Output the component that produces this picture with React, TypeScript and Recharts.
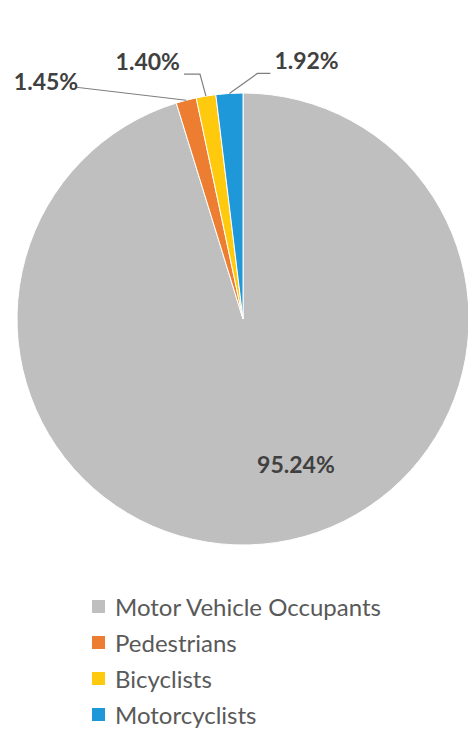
import { PieChart, Pie, Cell } from "recharts";

const categories = ["Motor Vehicle Occupants", "Pedestrians", "Bicyclists", "Motorcyclists"];
const shares = [95.24, 1.45, 1.4, 1.92];
const labels = ["95.24%", "1.45%", "1.40%", "1.92%"];
const colors = ["#bfbfbf", "#ed7d31", "#ffc90e", "#1e98d8"];

const data = categories.map((name, i) => ({ name, value: shares[i], label: labels[i] }));

const RAD = Math.PI / 180;
const FONT = "Lato, 'Open Sans', sans-serif";

// where each outside label sits relative to its slice edge (elbow + text)
const callouts: Record<number, { elbow: [number, number]; text: [number, number]; anchor: "start" | "end" | "middle" }> = {
  1: { elbow: [-110, -13], text: [-108, -19], anchor: "end" },
  2: { elbow: [-6, -22], text: [-26, -35], anchor: "end" },
  3: { elbow: [28, -20], text: [45, -33], anchor: "start" },
};

const renderLabel = (props: any) => {
  const { cx, cy, midAngle, outerRadius, index, payload } = props;
  const text = payload.label ?? labels[index];
  if (index === 0) {
    const r = outerRadius * 0.65;
    const x = cx + r * Math.cos(-midAngle * RAD) + 31;
    const y = cy + r * Math.sin(-midAngle * RAD);
    return (
      <text x={x} y={y} textAnchor="middle" dominantBaseline="central" fill="#404040" fontSize={23} fontWeight="bold" fontFamily={FONT}>
        {text}
      </text>
    );
  }
  const sx = cx + outerRadius * Math.cos(-midAngle * RAD);
  const sy = cy + outerRadius * Math.sin(-midAngle * RAD);
  const c = callouts[index];
  const ex = sx + c.elbow[0];
  const ey = sy + c.elbow[1];
  const tx = sx + c.text[0];
  const ty = sy + c.text[1];
  let d = `M${sx},${sy} L${ex},${ey}`;
  if (index === 2) d += ` L${tx + 4},${ey}`;
  if (index === 3) d += ` L${tx - 4},${ey}`;
  return (
    <g>
      <path d={d} stroke="#7f7f7f" strokeWidth={1.2} fill="none" />
      <text x={tx} y={ty} textAnchor={c.anchor} dominantBaseline="central" fill="#404040" fontSize={23} fontWeight="bold" fontFamily={FONT}>
        {text}
      </text>
    </g>
  );
};

function LegendBlock() {
  return (
    <div style={{ position: "absolute", left: 92, top: 588, fontFamily: FONT, fontSize: 24, color: "#595959" }}>
      {categories.map((c, i) => (
        <div key={c} style={{ display: "flex", alignItems: "center", height: 36 }}>
          <span style={{ width: 13, height: 13, background: colors[i], marginRight: 10, display: "inline-block" }} />
          <span>{c}</span>
        </div>
      ))}
    </div>
  );
}

export default function App() {
  return (
    <div style={{ position: "absolute", left: 0, top: 0, width: 468, height: 736, background: "#fff", overflow: "hidden" }}>
      <PieChart width={468} height={580} margin={{ top: 0, right: 0, bottom: 0, left: 0 }}>
        <Pie
          data={data}
          dataKey="value"
          nameKey="name"
          cx={243}
          cy={319}
          outerRadius={226}
          startAngle={90}
          endAngle={-270}
          stroke="#ffffff"
          strokeWidth={1}
          label={renderLabel}
          labelLine={false}
          isAnimationActive={false}
        >
          {data.map((d, i) => (
            <Cell key={d.name} fill={colors[i]} />
          ))}
        </Pie>
      </PieChart>
      <LegendBlock />
    </div>
  );
}
